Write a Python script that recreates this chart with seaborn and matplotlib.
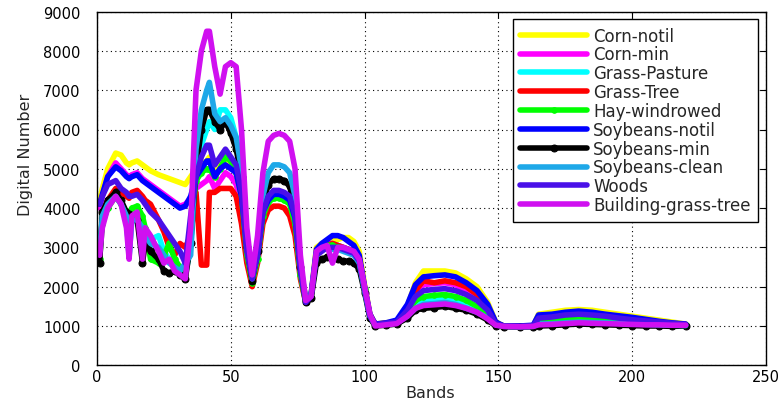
import numpy as np
import pandas as pd
import matplotlib
matplotlib.use("Agg")
import matplotlib.pyplot as plt
import seaborn as sns

bands = [1, 2, 4, 7, 9, 11, 12, 13, 15, 17, 18, 20, 23, 25, 27, 29, 31, 33, 35, 37,
         39, 41, 42, 44, 46, 48, 50, 52,
         54, 56, 58, 60, 62, 64, 66, 68, 70, 72, 74, 76, 78, 80, 82, 84, 86, 88, 90,
         92, 94, 96, 98, 100, 102,
         104, 108, 112, 116, 119, 122, 126, 130, 134, 138, 142, 146, 149, 152, 158,
         163, 165, 170, 175, 180, 185, 190, 195, 200, 205, 210, 215, 220]

corn_notil = [4200, 4500, 5000, 5400, 5350, 5150, 5100, 5150, 5200, 5100, 5050, 4950, 4850, 4800, 4750, 4700, 4650, 4600, 4800, 5000,
              5100, 5200, 5300, 5000, 5100, 5200, 5100, 5000,
              4400, 3000, 2250, 2800, 3950, 4250, 4400, 4400, 4350, 4250, 3800, 2500, 1700, 1800, 3000, 3100, 3150, 3200, 3200,
              3250, 3250, 3150, 2900, 2050, 1300,
              1050, 1080, 1120, 1500, 2100, 2400, 2400, 2400, 2350, 2200, 2000, 1600, 1100, 1000, 1000,
              1000, 1300, 1350, 1400, 1420, 1400, 1350, 1300, 1250, 1200, 1150, 1100, 1050]
corn_min = [4000, 4300, 4800, 5150, 5000, 4850, 4800, 4850, 4900, 4750, 4700, 4600, 4450, 4350, 4250, 4150, 4050, 4100, 4250, 4500,
            4600, 4700, 4800, 4500, 4700, 4900, 4800, 4600,
            4100, 2850, 2150, 2700, 3800, 4150, 4300, 4300, 4250, 4150, 3700, 2350, 1600, 1750, 2850, 3000, 3100, 3100, 3050,
            3000, 2950, 2900, 2700, 1950, 1250,
            1000, 1050, 1080, 1400, 1850, 2050, 2080, 2100, 2050, 1900, 1750, 1450, 1050, 1000, 1000,
            1000, 1150, 1150, 1200, 1220, 1200, 1170, 1150, 1120, 1100, 1080, 1060, 1040]
grass_pasture = [2800, 3800, 4100, 4300, 4100, 3700, 2800, 3700, 3800, 3500, 3300, 3200, 3300, 2900, 2700, 2500, 2400, 2300, 3000, 4800,
                 5600, 6000, 6200, 6000, 6500, 6500, 6300, 5800,
                 4400, 2850, 2150, 2750, 3850, 4200, 4300, 4300, 4250, 4150, 3700, 2350, 1600, 1750, 2850, 2950, 3050, 3050, 3050,
                 3000, 2950, 2900, 2700, 1950, 1250,
                 1020, 1050, 1080, 1300, 1550, 1650, 1680, 1700, 1650, 1550, 1400, 1250, 1050, 1000, 980,
                 990, 1100, 1120, 1180, 1300, 1200, 1150, 1120, 1100, 1080, 1060, 1050, 1030]
grass_tree = [2900, 3700, 4200, 4500, 4400, 4300, 4250, 4400, 4450, 4300, 4200, 4100, 3700, 3400, 3000, 2800, 3100, 3000, 3300, 4400,
              2550, 2550, 4400, 4400, 4500, 4500, 4500, 4300,
              3600, 2600, 2000, 2600, 3600, 3950, 4050, 4050, 4000, 3800, 3300, 2200, 1600, 1750, 2850, 2950, 3050, 3100, 3050,
              3000, 2950, 2900, 2700, 1950, 1250,
              1050, 1070, 1100, 1450, 1900, 2150, 2100, 2150, 2100, 2000, 1800, 1500, 1080, 1000, 1000,
              1000, 1150, 1180, 1200, 1250, 1230, 1200, 1170, 1140, 1110, 1080, 1060, 1040]
hay_windrowed = [2700, 3600, 4000, 4300, 4100, 3900, 3800, 4000, 4050, 3800, 3500, 2700, 2600, 2800, 3100, 2700, 2500, 2300, 3500, 4700,
                 4900, 5000, 5000, 4800, 5000, 5300, 5200, 4900,
                 4300, 2800, 2100, 2700, 3800, 4150, 4250, 4250, 4200, 4100, 3600, 2300, 1600, 1750, 2800, 2950, 3050, 3050, 3000,
                 2950, 2900, 2850, 2650, 1950, 1250,
                 1030, 1060, 1090, 1350, 1650, 1750, 1780, 1800, 1750, 1650, 1500, 1300, 1050, 1000, 990,
                 1000, 1100, 1110, 1150, 1180, 1160, 1130, 1110, 1090, 1070, 1060, 1050, 1030]
soy_notil = [4100, 4350, 4800, 5050, 4950, 4800, 4750, 4800, 4850, 4700, 4650, 4550, 4400, 4300, 4200, 4100, 4000, 4050, 4300, 4800,
             5000, 5200, 5200, 4800, 5000, 5100, 5000, 4900,
             4300, 3000, 2250, 2800, 3900, 4200, 4350, 4350, 4300, 4200, 3750, 2450, 1700, 1800, 2950, 3100, 3200, 3300, 3300,
             3250, 3150, 3050, 2800, 2000, 1300,
             1050, 1080, 1150, 1550, 2050, 2250, 2280, 2300, 2250, 2100, 1900, 1550, 1100, 1000, 1000,
             1020, 1280, 1300, 1350, 1380, 1350, 1300, 1260, 1220, 1170, 1120, 1080, 1050]
soy_min = [2600, 3900, 4200, 4400, 4200, 3900, 3850, 3800, 3700, 2600, 3100, 2900, 2700, 2400, 2350, 2400, 2300, 2200, 3100, 5000,
           6000, 6500, 6500, 6200, 6000, 6200, 5900, 5500,
           4800, 3000, 2150, 2900, 4100, 4600, 4750, 4750, 4700, 4550, 4000, 2500, 1600, 1700, 2600, 2700, 2750, 2700, 2700,
           2650, 2650, 2600, 2450, 1850, 1200,
           1000, 1020, 1050, 1200, 1400, 1450, 1470, 1500, 1450, 1400, 1300, 1150, 1000, 980, 970,
           980, 1000, 1010, 1030, 1050, 1040, 1030, 1020, 1010, 1000, 1000, 990, 1000]
soy_clean = [2900, 3800, 4100, 4300, 4100, 3800, 2750, 3700, 3700, 3500, 3300, 3100, 3000, 2800, 2600, 2500, 2400, 2600, 2800, 5500,
             6500, 7000, 7200, 6400, 6200, 6300, 6100, 5800,
             5000, 3200, 2200, 3000, 4300, 4900, 5100, 5100, 5050, 4900, 4300, 2600, 1650, 1800, 2850, 2950, 3000, 2950, 2950,
             2900, 2850, 2800, 2600, 1900, 1250,
             1020, 1050, 1080, 1250, 1450, 1550, 1570, 1600, 1550, 1450, 1350, 1200, 1030, 990, 980,
             990, 1050, 1060, 1080, 1100, 1090, 1080, 1070, 1050, 1040, 1030, 1020, 1010]
woods = [4100, 4300, 4600, 4700, 4500, 4400, 4300, 4300, 4350, 4200, 4100, 3900, 3700, 3500, 3300, 3100, 2900, 2600, 3800, 4800,
         5300, 5600, 5600, 5100, 5300, 5500, 5300, 5100,
         4400, 2900, 2200, 2800, 3900, 4300, 4450, 4450, 4400, 4300, 3800, 2400, 1600, 1750, 2800, 2900, 3000, 3000, 3000,
         2950, 2900, 2850, 2650, 1950, 1250,
         1040, 1070, 1100, 1400, 1750, 1900, 1930, 1950, 1900, 1800, 1650, 1400, 1060, 1000, 1000,
         1000, 1200, 1230, 1280, 1300, 1280, 1250, 1200, 1160, 1130, 1100, 1070, 1040]
building = [2800, 3500, 4000, 4300, 4100, 3500, 2700, 3800, 3900, 2700, 3500, 3300, 2900, 2600, 2700, 2400, 2300, 2200, 3500, 7000,
            8000, 8500, 8500, 7600, 6900, 7600, 7700, 7600,
            6000, 3500, 2300, 3300, 4900, 5700, 5850, 5900, 5850, 5700, 5000, 2800, 1650, 1750, 2900, 3000, 3050, 2600, 3000,
            3000, 2950, 2900, 2700, 2000, 1300,
            1000, 1030, 1060, 1250, 1450, 1520, 1540, 1560, 1520, 1450, 1350, 1180, 1020, 990, 980,
            990, 1030, 1040, 1060, 1080, 1070, 1060, 1050, 1040, 1030, 1030, 1020, 1020]

class_names = ["Corn-notil", "Corn-min", "Grass-Pasture", "Grass-Tree", "Hay-windrowed",
               "Soybeans-notil", "Soybeans-min", "Soybeans-clean", "Woods", "Building-grass-tree"]
series = [corn_notil, corn_min, grass_pasture, grass_tree, hay_windrowed,
          soy_notil, soy_min, soy_clean, woods, building]
colors = ["#ffff00", "#ff00ff", "#00ffff", "#ff0000", "#00ff00",
          "#0000ff", "#000000", "#1ea8e8", "#4a10e8", "#d010f0"]
markers = [None, None, ".", ".", "o", ".", "o", None, None, None]
msizes = [0, 0, 3, 3, 4, 3, 5, 0, 0, 0]

xticks = [0, 50, 100, 150, 200, 250]
yticks = [0, 1000, 2000, 3000, 4000, 5000, 6000, 7000, 8000, 9000]

sns.set_style("white")
plt.rcParams["font.family"] = ["DejaVu Sans"]

fig = plt.figure(figsize=(7.84, 4.06), dpi=100)
ax = fig.add_axes([97 / 784, 1 - 366.3 / 406, (766 - 97) / 784, (366.3 - 12.6) / 406])

for name, vals, col, mk, ms in zip(class_names, series, colors, markers, msizes):
    df = pd.DataFrame({"Band": bands, "DN": vals})
    kw = dict(marker=mk, markersize=ms, markeredgecolor=col, markerfacecolor=col) if mk else {}
    sns.lineplot(data=df, x="Band", y="DN", color=col, linewidth=4, label=name,
                 ax=ax, sort=False, solid_joinstyle="round", solid_capstyle="round", **kw)

ax.set_xlim(0, 250)
ax.set_ylim(0, 9000)
ax.set_xticks(xticks)
ax.set_yticks(yticks)
ax.set_xticklabels([str(t) for t in xticks], fontsize=10.5)
ax.set_yticklabels([str(t) for t in yticks], fontsize=10.5)
ax.tick_params(direction="in", length=4, top=True, right=True, width=0.8, colors="black")
ax.tick_params(axis="y", pad=12)
ax.tick_params(axis="x", pad=3)
ax.grid(True, color="black", linestyle=(0, (1, 3)), linewidth=0.8)
for sp in ax.spines.values():
    sp.set_color("black")
    sp.set_linewidth(1.0)
ax.set_xlabel("Bands", fontsize=11.5)
ax.set_ylabel("Digital Number", fontsize=11.5)
ax.xaxis.set_label_coords(0.498, -0.055)
ax.yaxis.set_label_coords(-0.096, 0.597)

leg = ax.legend(loc="upper right", bbox_to_anchor=(0.988, 0.979), borderaxespad=0,
                fontsize=12, handlelength=4.0, handletextpad=0.35, labelspacing=0.05,
                frameon=True, fancybox=False, framealpha=1, edgecolor="black",
                borderpad=0.45)
leg.get_frame().set_linewidth(1.0)

fig.savefig("out.png", dpi=100)
